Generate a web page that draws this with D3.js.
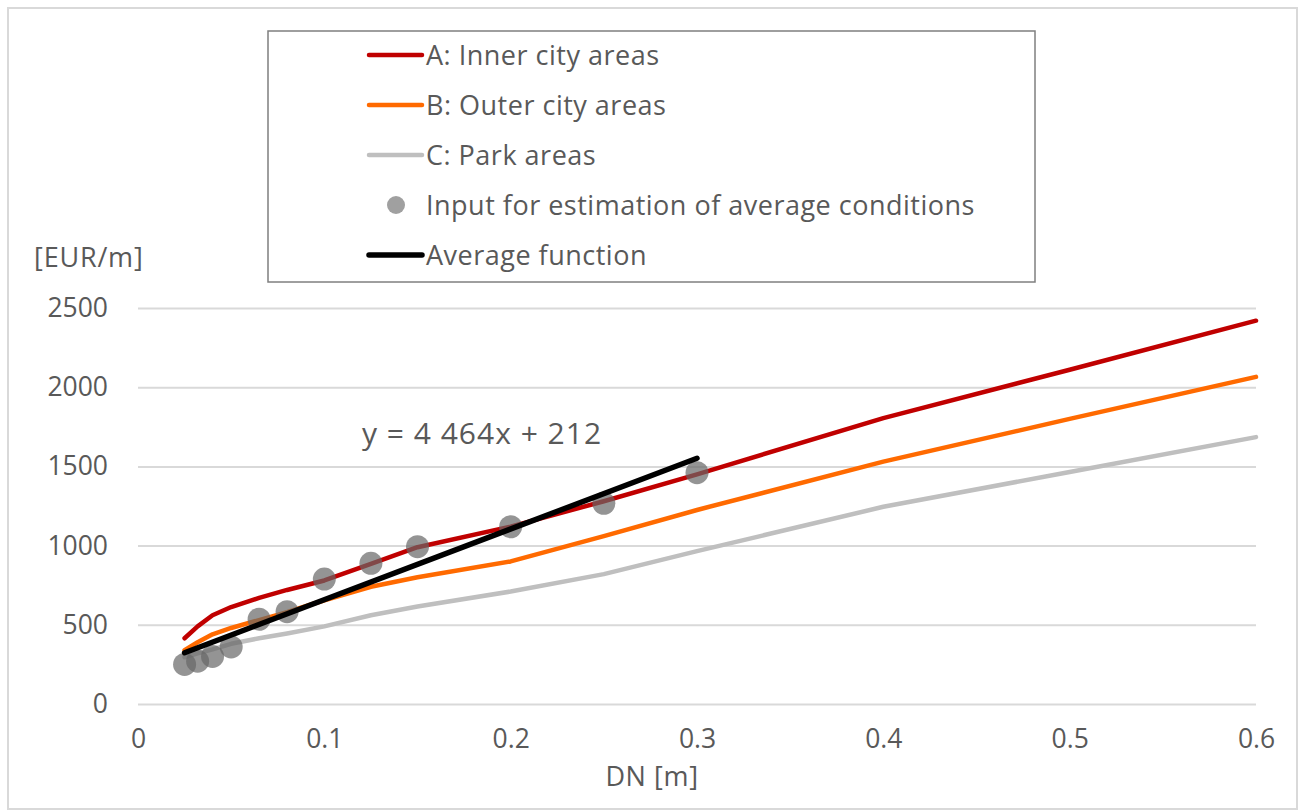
<!DOCTYPE html>
<html>
<head>
<meta charset="utf-8">
<script src="https://cdn.jsdelivr.net/npm/d3@7"></script>
<style>
  body { margin: 0; background: #fff; }
  text { font-family: "Open Sans", sans-serif; fill: #595959; }
</style>
</head>
<body>
<div id="chart"></div>
<script>
// DN values [m] used for all series
let dn = [0.025, 0.032, 0.04, 0.05, 0.065, 0.08, 0.1, 0.125, 0.15, 0.2, 0.25, 0.3, 0.4, 0.5, 0.6];

// cost per metre for each area type [EUR/m]
let innerCity = [415, 490, 560, 612, 670, 720, 780, 885, 990, 1120, 1280, 1450, 1805, 2110, 2420];
let outerCity = [340, 390, 440, 480, 530, 580, 655, 740, 800, 900, 1060, 1225, 1530, 1800, 2065];
let parkAreas = [295, 320, 345, 380, 415, 445, 490, 560, 615, 710, 820, 965, 1245, 1465, 1685];

// input points for the average estimate (DN 25 .. 300)
let inputDn = [0.025, 0.032, 0.04, 0.05, 0.065, 0.08, 0.1, 0.125, 0.15, 0.2, 0.25, 0.3];
let inputCost = [250, 270, 300, 360, 535, 583, 789, 888, 993, 1119, 1267, 1460];

// average function y = 4464x + 212, drawn over the input range
let avgSlope = 4464, avgIntercept = 212;
let avgRange = [0.025, 0.3];

let xTicks = [0, 0.1, 0.2, 0.3, 0.4, 0.5, 0.6];
let yTicks = [0, 500, 1000, 1500, 2000, 2500];

let legendLabels = ["A: Inner city areas", "B: Outer city areas", "C: Park areas",
                    "Input for estimation of average conditions", "Average function"];

const W = 1298, H = 810;
let svg = d3.select("#chart").append("svg")
    .attr("width", W).attr("height", H);

// outer frame
svg.append("rect")
    .attr("x", 8).attr("y", 8).attr("width", 1289).attr("height", 801)
    .attr("fill", "none").attr("stroke", "#d9d9d9").attr("stroke-width", 2);

let x = d3.scaleLinear().domain([0, 0.6]).range([138, 1256]);
let y = d3.scaleLinear().domain([0, 2500]).range([704, 308]);

// gridlines
svg.append("g")
    .attr("transform", "translate(138,0)")
    .call(d3.axisLeft(y).tickValues(yTicks).tickSize(-(1256 - 138)).tickFormat(""))
    .call(g => g.select(".domain").remove())
    .call(g => g.selectAll("line").attr("stroke", "#d9d9d9").attr("stroke-width", 2));

// y tick labels
svg.append("g")
    .attr("transform", "translate(108,0)")
    .call(d3.axisLeft(y).tickValues(yTicks).tickSize(0).tickPadding(0).tickFormat(d3.format("d")))
    .call(g => g.select(".domain").remove())
    .call(g => g.selectAll("text").style("font-size", "26.5px").attr("fill", "#595959"));

// x tick labels
svg.append("g")
    .attr("transform", "translate(0,729)")
    .call(d3.axisBottom(x).tickValues(xTicks).tickSize(0).tickPadding(0).tickFormat(d3.format("~g")))
    .call(g => g.select(".domain").remove())
    .call(g => g.selectAll("text").style("font-size", "26.5px").attr("fill", "#595959"));

// axis titles
svg.append("text").attr("x", 34).attr("y", 267)
    .style("font-size", "27px").style("letter-spacing", "0.8px").text("[EUR/m]");
svg.append("text").attr("x", 652).attr("y", 786).attr("text-anchor", "middle")
    .style("font-size", "27px").style("letter-spacing", "0.6px").text("DN [m]");

let line = d3.line().x(d => x(d[0])).y(d => y(d[1]));

let series = [
    { name: legendLabels[0], vals: innerCity, color: "#c00000" },
    { name: legendLabels[1], vals: outerCity, color: "#ff6a00" },
    { name: legendLabels[2], vals: parkAreas, color: "#bfbfbf" },
];

// draw in reverse so red ends up on top
series.slice().reverse().forEach(s => {
    svg.append("path")
        .datum(d3.zip(dn, s.vals))
        .attr("d", line)
        .attr("fill", "none")
        .attr("stroke", s.color)
        .attr("stroke-width", 4.5)
        .attr("stroke-linejoin", "round")
        .attr("stroke-linecap", "round");
});

// input points
svg.append("g").selectAll("circle")
    .data(d3.zip(inputDn, inputCost))
    .join("circle")
    .attr("cx", d => x(d[0]))
    .attr("cy", d => y(d[1]))
    .attr("r", 11.5)
    .attr("fill", "#666")
    .attr("opacity", 0.7);

// average function
svg.append("path")
    .datum(avgRange.map(v => [v, avgSlope * v + avgIntercept]))
    .attr("d", line)
    .attr("fill", "none")
    .attr("stroke", "#000")
    .attr("stroke-width", 5.5)
    .attr("stroke-linecap", "round");

svg.append("text").attr("x", 362).attr("y", 444)
    .style("font-size", "30px").style("letter-spacing", "1px").text("y = 4 464x + 212");

// legend
let lg = svg.append("g");
lg.append("rect")
    .attr("x", 268).attr("y", 31).attr("width", 767).attr("height", 251)
    .attr("fill", "#fff").attr("stroke", "#7f7f7f").attr("stroke-width", 1.5);

let legendItems = [
    { label: legendLabels[0], type: "line", color: "#c00000", w: 4.5 },
    { label: legendLabels[1], type: "line", color: "#ff6a00", w: 4.5 },
    { label: legendLabels[2], type: "line", color: "#bfbfbf", w: 4.5 },
    { label: legendLabels[3], type: "dot", color: "#a0a0a0" },
    { label: legendLabels[4], type: "line", color: "#000", w: 5.5 },
];
legendItems.forEach((it, i) => {
    let cy = 55 + i * 50;
    if (it.type === "line") {
        lg.append("line")
            .attr("x1", 369).attr("x2", 422).attr("y1", cy).attr("y2", cy)
            .attr("stroke", it.color).attr("stroke-width", it.w)
            .attr("stroke-linecap", "round");
    } else {
        lg.append("circle").attr("cx", 396).attr("cy", cy).attr("r", 9)
            .attr("fill", it.color);
    }
    lg.append("text").attr("x", 426).attr("y", cy + 10)
        .style("font-size", "27px").style("letter-spacing", "0.5px").text(it.label);
});
</script>
</body>
</html>
